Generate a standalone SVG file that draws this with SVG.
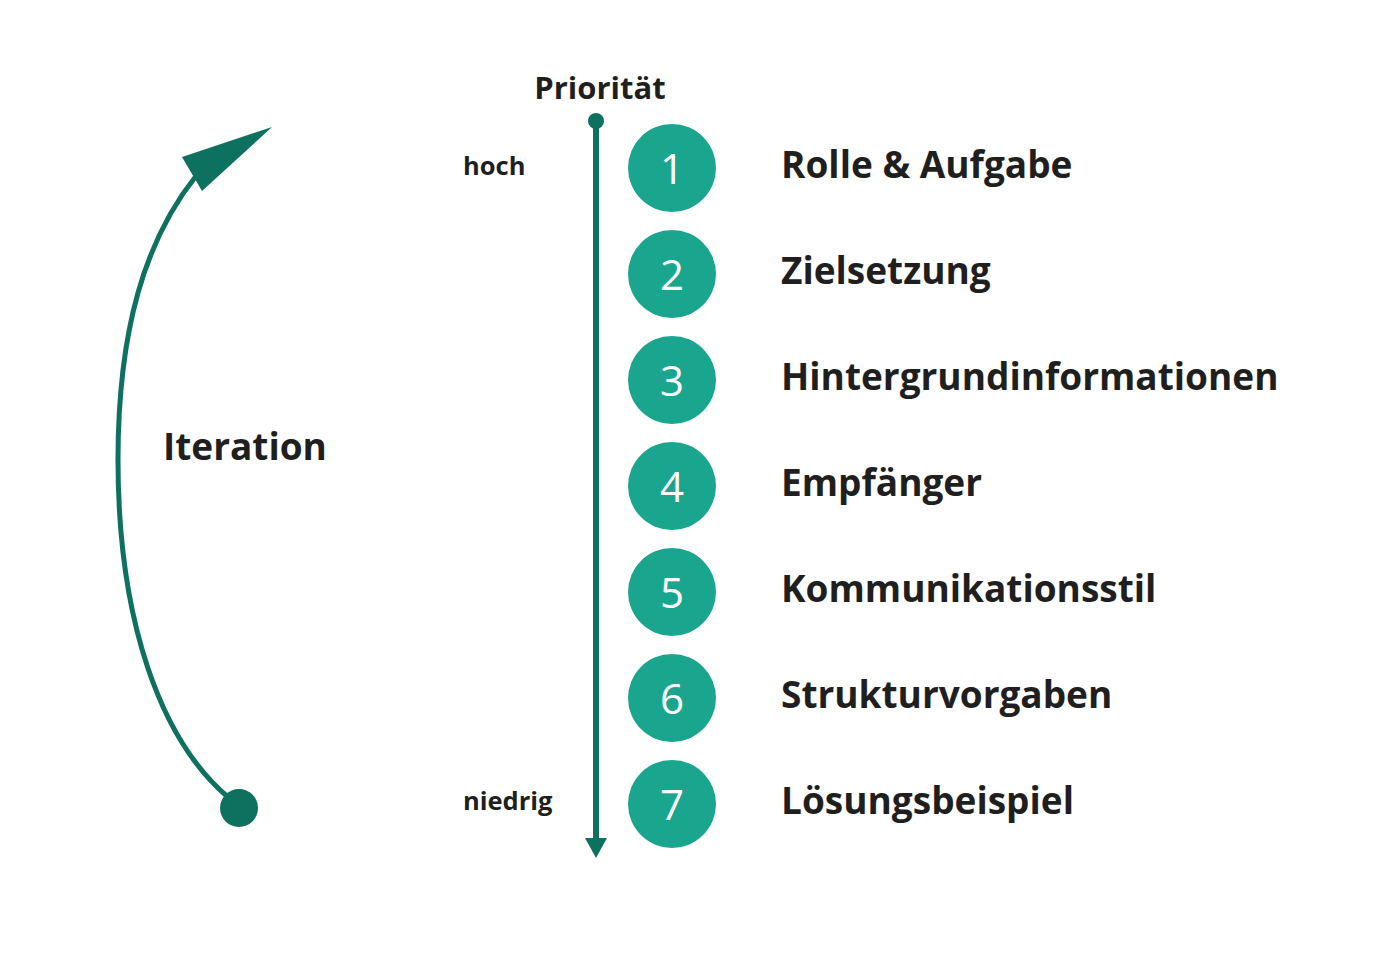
<svg xmlns="http://www.w3.org/2000/svg" width="1400" height="958" viewBox="0 0 1400 958">
<style>
.lbl{font-family:"Open Sans","Liberation Sans",sans-serif;font-weight:700;fill:#1f1f1f}
.big{font-size:37px}
.num{font-family:"Open Sans","Liberation Sans",sans-serif;font-weight:400;font-size:42px;fill:#ffffff;text-anchor:middle}
.circ{fill:#1aa68e}
.dark{fill:#0e7160}
</style>
<rect width="1400" height="958" fill="#ffffff"/>
<g id="connectors">
<path d="M229 798 C160 740 118 620 118 460 C118 330 145 240 196 176" fill="none" stroke="#0e7160" stroke-width="5"/>
<polygon class="dark" points="272,127 182,157 202,191"/>
<circle class="dark" cx="239" cy="808" r="19"/>
<line x1="596" y1="121" x2="596" y2="842" stroke="#0e7160" stroke-width="6"/>
<circle class="dark" cx="596" cy="121" r="8"/>
<polygon class="dark" points="585,838 607,838 596,858"/>
</g>
<g id="axis-labels">
<text class="lbl" x="600" y="99" font-size="31" text-anchor="middle">Priorität</text>
<text class="lbl" x="463" y="175" font-size="25.5">hoch</text>
<text class="lbl" x="463" y="810" font-size="25.5">niedrig</text>
<text class="lbl big" x="163" y="460">Iteration</text>
</g>
<g id="node1"><circle class="circ" cx="672" cy="168" r="44"/><text class="num" x="672" y="184">1</text><text class="lbl big" x="781" y="178">Rolle &amp; Aufgabe</text></g>
<g id="node2"><circle class="circ" cx="672" cy="274" r="44"/><text class="num" x="672" y="290">2</text><text class="lbl big" x="781" y="284">Zielsetzung</text></g>
<g id="node3"><circle class="circ" cx="672" cy="380" r="44"/><text class="num" x="672" y="396">3</text><text class="lbl big" x="781" y="390">Hintergrundinformationen</text></g>
<g id="node4"><circle class="circ" cx="672" cy="486" r="44"/><text class="num" x="672" y="502">4</text><text class="lbl big" x="781" y="496">Empfänger</text></g>
<g id="node5"><circle class="circ" cx="672" cy="592" r="44"/><text class="num" x="672" y="608">5</text><text class="lbl big" x="781" y="602">Kommunikationsstil</text></g>
<g id="node6"><circle class="circ" cx="672" cy="698" r="44"/><text class="num" x="672" y="714">6</text><text class="lbl big" x="781" y="708">Strukturvorgaben</text></g>
<g id="node7"><circle class="circ" cx="672" cy="804" r="44"/><text class="num" x="672" y="820">7</text><text class="lbl big" x="781" y="814">Lösungsbeispiel</text></g>
</svg>
